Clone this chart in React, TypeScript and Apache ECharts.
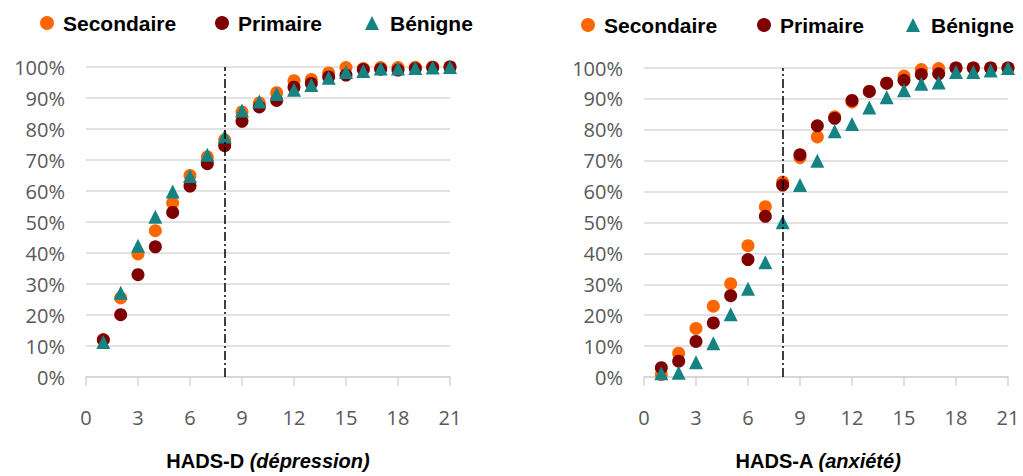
import React, { useEffect, useRef } from "react";
import * as echarts from "echarts";

const scores = [1, 2, 3, 4, 5, 6, 7, 8, 9, 10, 11, 12, 13, 14, 15, 16, 17, 18, 19, 20, 21];
const seriesNames = ["Secondaire", "Primaire", "Bénigne"];
const yTicks = [0, 10, 20, 30, 40, 50, 60, 70, 80, 90, 100];
const cutoff = 8;

// HADS-D (dépression), cumulative %
const depSecondaire = [12, 25.5, 39.7, 47.2, 56.1, 65, 71, 76.5, 85.5, 88.4, 91.7, 95.6, 96, 98.1, 99.8, 99.5, 99.8, 99.8, 99.9, 100, 100];
const depPrimaire = [12, 20.1, 33, 42, 53.1, 61.6, 68.8, 74.6, 82.5, 87.1, 89.2, 93.5, 94.7, 96.8, 97.4, 99.2, 99.3, 99, 99.5, 99.8, 100];
const depBenigne = [11.3, 27.2, 42.3, 51.7, 59.8, 64.8, 71.7, 77.6, 86, 88.9, 91.3, 92.7, 94.2, 96.5, 98.4, 98.7, 99.5, 99.5, 99.7, 99.8, 100];

// HADS-A (anxiété), cumulative %
const anxSecondaire = [0.8, 7.7, 15.7, 22.9, 30.2, 42.5, 55.1, 63.1, 71, 77.7, 84.2, 89, 92.4, 95.1, 97.4, 99.5, 99.8, 100, 100, 100, 100];
const anxPrimaire = [3.0, 5.1, 11.5, 17.5, 26.3, 38, 52, 62.1, 71.9, 81.3, 83.7, 89.5, 92.4, 95.1, 96, 97.9, 98.1, 100, 100, 100, 100];
const anxBenigne = [1.2, 1.4, 4.8, 10.9, 20.3, 28.6, 37.1, 50.1, 62.1, 70, 79.5, 81.9, 87.2, 90.5, 92.8, 94.9, 95.3, 98.7, 98.7, 99.2, 100];

const colors = ["#ff6600", "#7f0000", "#168383"];
const symbols = ["circle", "circle", "triangle"];

const pairs = (vals: number[]) => scores.map((s, i) => [s, vals[i]]);

export default function App() {
  const ref = useRef<HTMLDivElement>(null);
  useEffect(() => {
    if (!ref.current) return;
    const chart = echarts.init(ref.current, null, { renderer: "svg" });

    const labelFont = { color: "#595959", fontSize: 20, fontFamily: "Open Sans" };
    const boldFont = { fontFamily: "Liberation Sans", fontWeight: "bold" as const, color: "#000" };

    const makeX = (gridIndex: number, name: string, pad: number) => ({
      type: "value",
      gridIndex,
      min: 0,
      max: 21,
      interval: 3,
      axisLine: { show: true, onZero: false, lineStyle: { color: "#d4d4d4", width: 1.5 } },
      axisTick: { show: true, length: 9, lineStyle: { color: "#d4d4d4", width: 1.5 } },
      splitLine: { show: false },
      axisLabel: { ...labelFont, margin: 30 },
      name,
      nameLocation: "middle",
      nameGap: 74,
      nameTextStyle: {
        padding: [0, pad, 0, 0],
        rich: {
          b: { ...boldFont, fontSize: 20 },
          i: { ...boldFont, fontSize: 20, fontStyle: "italic" },
        },
      },
    });

    const makeY = (gridIndex: number) => ({
      type: "value",
      gridIndex,
      min: yTicks[0],
      max: yTicks[yTicks.length - 1],
      interval: yTicks[1] - yTicks[0],
      axisLine: { show: false },
      axisTick: { show: false },
      axisLabel: { ...labelFont, margin: 21, formatter: "{value}%" },
      splitLine: { show: true, lineStyle: { color: "#d9d9d9", width: 1.5 } },
    });

    const markLine = {
      silent: true,
      symbol: ["none", "none"],
      label: { show: false },
      lineStyle: { color: "#000", width: 1.5, type: [9, 3, 2, 3] },
      data: [{ xAxis: cutoff }],
    };

    const groups = [
      [depSecondaire, depPrimaire, depBenigne],
      [anxSecondaire, anxPrimaire, anxBenigne],
    ];

    const series: any[] = [];
    groups.forEach((g, gi) => {
      g.forEach((vals, si) => {
        series.push({
          type: "scatter",
          name: seriesNames[si],
          xAxisIndex: gi,
          yAxisIndex: gi,
          data: pairs(vals),
          symbol: symbols[si],
          symbolSize: si === 2 ? 14 : 13,
          itemStyle: { color: colors[si], opacity: 1 },
          z: 2 + si,
          ...(si === 0 ? { markLine } : {}),
        });
      });
    });

    const legendPos = [
      [40, 11.5],
      [215, 11.5],
      [365, 11.5],
      [581, 13.5],
      [757, 13.5],
      [906, 13.5],
    ];
    const legends = legendPos.map((p, k) => {
      const si = k % 3;
      return {
        left: p[0],
        top: p[1],
        padding: 0,
        itemWidth: 14,
        itemHeight: 14,
        selectedMode: false,
        data: [{ name: seriesNames[si], icon: symbols[si] }],
        textStyle: { ...boldFont, fontSize: 21, lineHeight: 23, padding: [0, 0, 0, si === 2 ? 6 : 4] },
      };
    });

    chart.setOption({
      animation: false,
      backgroundColor: "#fff",
      legend: legends,
      grid: [
        { left: 86, top: 67, width: 364, height: 315 },
        { left: 644, top: 68, width: 364, height: 315 },
      ],
      xAxis: [
        makeX(0, "{b|HADS-D }{i|(dépression)}", 0),
        makeX(1, "{b|HADS-A }{i|(anxiété)}", 16),
      ],
      yAxis: [makeY(0), makeY(1)],
      series,
    });
    return () => chart.dispose();
  }, []);
  return (
    <div
      ref={ref}
      style={{ position: "absolute", left: 0, top: 0, width: 1023, height: 476 }}
    />
  );
}
